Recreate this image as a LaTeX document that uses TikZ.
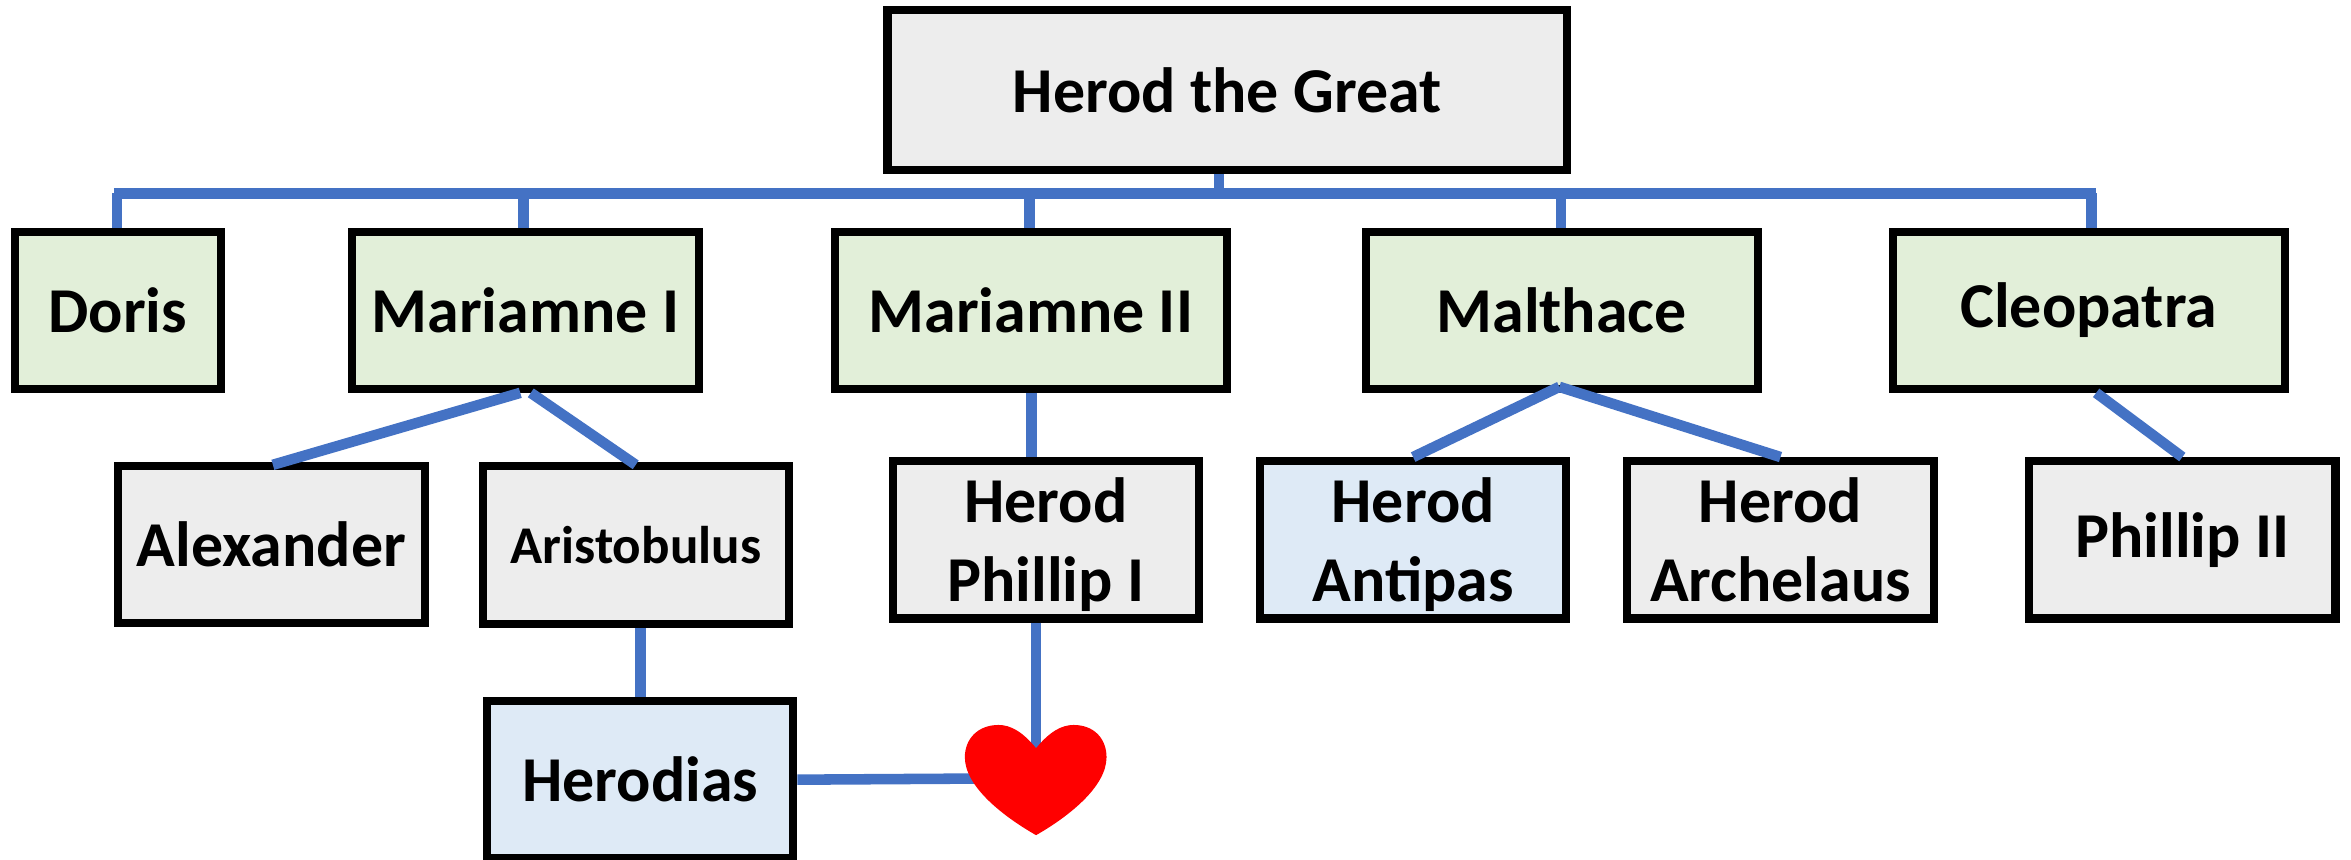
\documentclass[tikz,border=0pt]{standalone}
\usepackage{fontspec}
\setmainfont{Carlito}
\usepackage{xcolor}
\definecolor{parentgrey}{HTML}{EDEDED}
\definecolor{wifegreen}{HTML}{E2EFD9}
\definecolor{spouseblue}{HTML}{DEEAF6}
\definecolor{linkblue}{HTML}{4472C4}
\newcommand{\herodname}[1]{\rule{0pt}{15.5pt}Herod\\#1\vphantom{p}}
\tikzset{
	person/.style={draw=black,line width=2.3pt,inner sep=0pt,align=center,
		font=\bfseries\fontsize{18.2}{22.3}\selectfont,minimum height=44.8pt},
	small/.style={person,minimum width=87.2pt},
	wife/.style={person,fill=wifegreen},
	son/.style={small,fill=parentgrey},
	link/.style={linkblue,line width=3pt},
}
\begin{document}
\begin{tikzpicture}[x=0.014994cm,y=-0.014994cm]
	\useasboundingbox (0,0) rectangle (1568,573);

	\node[person,fill=parentgrey,minimum width=193.4pt,minimum height=45.6pt] (herod) at (818.5,60) {Herod the Great};

	\node[wife,minimum width=58.6pt] (doris) at (78.5,207) {Doris};
	\node[wife,minimum width=98.6pt] (mariamnei) at (350.5,207) {Mariamne I};
	\node[wife,minimum width=111.6pt] (mariamneii) at (687.5,207) {Mariamne II};
	\node[wife,minimum width=111.6pt] (malthace) at (1041.5,207) {Malthace};
	\node[wife,minimum width=111.6pt] (cleopatra) at (1393,207) {Cleopatra};

	\node[son] (alexander) at (181,363) {Alexander};
	\node[son,font=\bfseries\fontsize{15.1}{22}\selectfont] (aristobulus) at (424,363.5) {Aristobulus};
	\node[son] (phillipi) at (697.5,360) {\herodname{Phillip I}};
	\node[small,fill=spouseblue] (antipas) at (942.5,360) {\herodname{Antipas}};
	\node[son] (archelaus) at (1187.5,360) {\herodname{Archelaus}};
	\node[son] (phillipii) at (1455.5,360) {Phillip II};
	\node[small,fill=spouseblue] (herodias) at (427,520) {Herodias};

	% the bar under Herod
	\coordinate (busleft) at (76,129);
	\coordinate (busright) at (1398,129);
	\coordinate (bustop) at (813,129);
	\draw[link] (busleft) -- (busright);
	\draw[link] (bustop) -- (bustop |- herod.south);
	\foreach \wife/\x in {doris/78,mariamnei/349,mariamneii/686.5,malthace/1041,cleopatra/1395}{
		\coordinate (drop) at (\x,129);
		\draw[link] (drop) -- (drop |- \wife.north);
	}

	% children
	\coordinate (mleft) at (347,262);
	\coordinate (mright) at (354,262);
	\coordinate (alextop) at (182,310);
	\coordinate (aristop) at (424,310);
	\draw[link] (mleft) -- (alextop);
	\draw[link] (mright) -- (aristop);
	\coordinate (mtwo) at (688,262);
	\draw[link] (mtwo) -- (mtwo |- phillipi.north);
	\coordinate (mal) at (1040,258);
	\draw[link] (mal) -- (antipas.north);
	\draw[link] (mal) -- (archelaus.north);
	\coordinate (cleo) at (1398,262);
	\draw[link] (cleo) -- (phillipii.north);
	\draw[link] (herodias.north |- aristobulus.south) -- (herodias.north);

	% the couple
	\coordinate (heart) at (691,519);
	\draw[link] (heart |- phillipi.south) -- (heart);
	\draw[link] (herodias.east) -- (heart);
	\fill[red] (691,499) .. controls (682,488) and (674,483.5) .. (666,483.5)
		.. controls (652,483.5) and (643.5,493) .. (643.5,505)
		.. controls (643.5,525) and (670,545) .. (691,557)
		.. controls (712,545) and (738,525) .. (738,505)
		.. controls (738,493) and (730,483.5) .. (716,483.5)
		.. controls (708,483.5) and (700,488) .. (691,499) -- cycle;
\end{tikzpicture}
\end{document}
